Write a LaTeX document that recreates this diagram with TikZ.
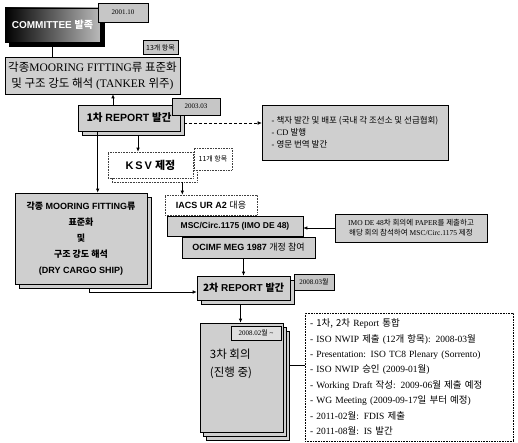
\documentclass[tikz,border=0pt]{standalone}
\usepackage{fontspec}
\setmainfont{Liberation Serif}
\setsansfont{Liberation Sans}
\newfontfamily\kr{Noto Sans CJK KR}
\newcommand\K[1]{{\kr #1}}
\usetikzlibrary{shadows,arrows.meta,calc}
\begin{document}
\begin{tikzpicture}[x=1pt,y=-1pt,
  base/.style={inner sep=0pt, align=center, line width=0.6pt},
  grey/.style={base, draw=black, fill=gray!38},
  light/.style={base, draw=black!75, densely dotted, fill=white},
  tagbox/.style={base, draw=black, fill=gray!45, font=\fontsize{7}{8}\selectfont},
  ltag/.style={base, draw=black!75, densely dotted, fill=white, font=\fontsize{7}{8}\selectfont},
  stack/.style={copy shadow={shadow xshift=4pt, shadow yshift=-4pt}},
  dstack/.style={double copy shadow={shadow xshift=3pt, shadow yshift=-4pt}},
  arr/.style={-{Latex[length=4pt,width=3.5pt]}, line width=0.7pt},
  bsans/.style={font=\sffamily\bfseries\fontsize{9}{11}\selectfont}
]
\useasboundingbox (0,0) rectangle (518,443);
\fill[white] (0,0) rectangle (518,443);

% top
\node[base, draw=black, left color=black, right color=gray!55, text=white,
      minimum width=95pt, minimum height=34pt, font=\sffamily\bfseries\fontsize{10}{12}\selectfont,
      stack] (comm) at (52.5,25) {COMMITTEE \K{발족}};
\node[tagbox] (d1) at (123,12.5) [minimum width=50pt, minimum height=19pt] {2001.10};

\node[grey, minimum width=175pt, minimum height=37pt, font=\fontsize{11.5}{16}\selectfont]
  (box2) at (92.5,75.5) {\K{각종}MOORING FITTING\K{류 표준화}\\\K{및 구조 강도 해석} (TANKER \K{위주})};
\node[tagbox, minimum width=35pt, minimum height=14pt] (t13) at (160.5,47.5) {\K{13개 항목}};

\node[grey, minimum width=102pt, minimum height=26pt, stack,
      font=\sffamily\bfseries\fontsize{10.5}{12}\selectfont] (box3) at (129,118) {\K{1차} REPORT \K{발간}};
\node[tagbox, minimum width=48pt, minimum height=17pt] (d3) at (196,106.5) {2003.03};

\node[grey, minimum width=186pt, minimum height=55pt, align=left,
      font=\fontsize{8.5}{12}\selectfont] (rn) at (355,132.5)
  {- \K{책자 발간 및 배포 (국내 각 조선소 및 선급협회)}\\- CD \K{발행}\\- \K{영문 번역 발간}};

\node[light, minimum width=85pt, minimum height=26pt, stack,
      font=\sffamily\bfseries\fontsize{11}{12}\selectfont] (ksv) at (150.5,165) {K\,S\,V \K{제정}};
\node[ltag, minimum width=38pt, minimum height=22pt] (t11) at (213,159) {\K{11개 항목}};

% middle
\node[grey, minimum width=132pt, minimum height=91pt, stack,
      font=\sffamily\bfseries\fontsize{9}{16}\selectfont] (dry) at (81,238.5)
  {\K{각종} MOORING FITTING\K{류}\\\K{표준화}\\\K{및}\\\K{구조 강도 해석}\\(DRY CARGO SHIP)};

\node[light, bsans, minimum width=92pt, minimum height=20pt] (iacs) at (211,205) {IACS UR A2 \K{\mdseries 대응}};
\node[grey, bsans, font=\sffamily\bfseries\fontsize{8.5}{10}\selectfont,
      minimum width=136pt, minimum height=20pt] (msc) at (235,226) {MSC/Circ.1175 (IMO DE 48)};
\node[grey, bsans, minimum width=133pt, minimum height=21pt] (ocimf) at (248.5,247.5) {OCIMF MEG 1987 \K{\mdseries 개정 참여}};

\node[grey, minimum width=152pt, minimum height=28pt, font=\fontsize{7.5}{10}\selectfont] (n2) at (411,228)
  {IMO DE 48\K{차 회의에} PAPER\K{를 제출하고}\\\K{해당 회의 참석하여} MSC/Circ.1175 \K{제정}};

\node[grey, minimum width=93pt, minimum height=24pt, stack,
      font=\sffamily\bfseries\fontsize{10}{12}\selectfont] (r2) at (243.5,288) {\K{2차} REPORT \K{발간}};
\node[tagbox, minimum width=40pt, minimum height=16pt] (d2) at (314,282) {2008.03\K{월}};

% bottom
\node[grey, minimum width=83pt, minimum height=109pt, dstack] (r3) at (241.5,377.5) {};
\node[base, align=left, font=\fontsize{11.5}{18}\selectfont] (r3t) at (231,364) {\K{3차 회의}\\\K{(진행 중)}};
\node[tagbox, fill=gray!25, minimum width=50pt, minimum height=14pt] (d4) at (256,333) {2008.02\K{월} \textasciitilde};

\node[light, draw=black, text width=198pt, inner xsep=5pt, inner ysep=0pt, minimum height=128pt, align=left,
      font=\fontsize{9.5}{15.4}\selectfont] (big) at (409,377)
  {- \K{1차,} \K{2차} Report \K{통합}\\
   - ISO NWIP \K{제출} (12\K{개 항목}): 2008-03\K{월}\\
   - Presentation: ISO TC8 Plenary (Sorrento)\\
   - ISO NWIP \K{승인} (2009-01\K{월})\\
   - Working Draft \K{작성}: 2009-06\K{월 제출 예정}\\
   - WG Meeting (2009-09-17\K{일 부터 예정})\\
   - 2011-02\K{월}: FDIS \K{제출}\\
   - 2011-08\K{월}: IS \K{발간}};

% connectors
\draw[arr] (box2.north -| comm.south) -- (comm.south);
\draw[arr] ([xshift=-16pt]box3.north) -- ([xshift=-16pt]box3.north |- box2.south);
\draw[arr, densely dashed, line width=0.5pt] ([xshift=4pt,yshift=-5pt]box3.east) -- ([yshift=-5pt]box3.east -| rn.west);
\draw[arr] ([xshift=9pt,yshift=-4pt]box3.south) -- ([xshift=9pt]box3.south |- ksv.north);
\draw[arr] ([xshift=20pt]box3.south west) -- ([xshift=20pt]box3.south west |- dry.north);
\draw[arr] ([xshift=-11pt,yshift=-4pt]ksv.south east) -- ([xshift=-11pt]ksv.south east |- iacs.north);
\draw[arr] (n2.west) -- (n2.west -| msc.east);
\draw[arr] (r2.north |- ocimf.south) -- (r2.north);
\draw[arr] ([xshift=8pt,yshift=-4pt]dry.south) |- ([yshift=-4pt]r2.west);
\draw[arr] ([xshift=-3pt,yshift=-4pt]r2.south) -- ([xshift=-3pt]r2.south |- r3.north);
\draw[line width=0.6pt] ([xshift=6pt,yshift=12.5pt]r3.east) -- ([yshift=12.5pt]r3.east -| big.west);
\end{tikzpicture}
\end{document}
